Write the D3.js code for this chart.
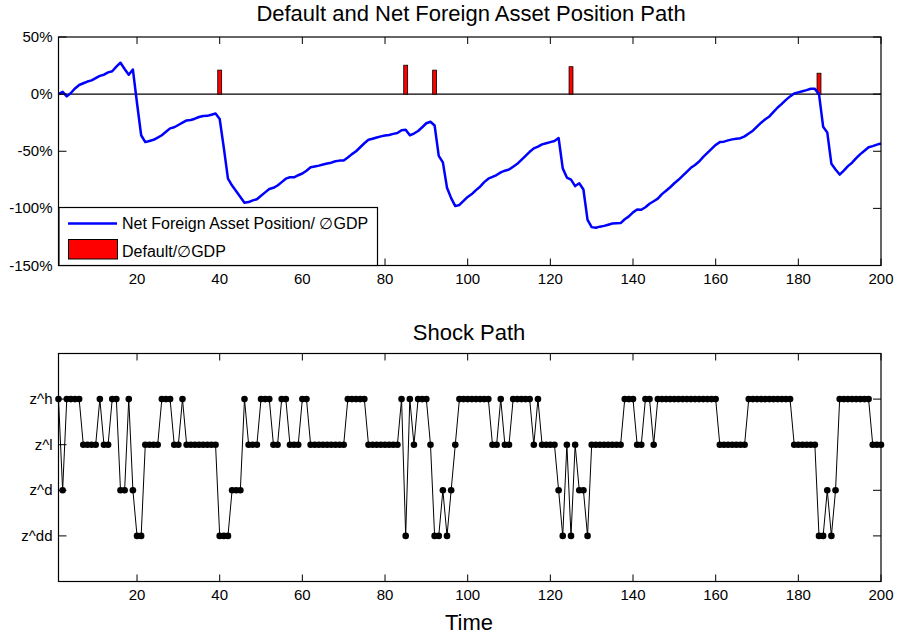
<!DOCTYPE html>
<html><head><meta charset="utf-8">
<script src="https://cdn.jsdelivr.net/npm/d3@7"></script>
<style>
html,body{margin:0;padding:0;background:#fff;}
svg{display:block;font-family:"Liberation Sans",Arial,sans-serif;}
</style></head>
<body><svg id="c" width="898" height="639"></svg>
<script>
// ---------- DATA ----------
const xTicks = [20,40,60,80,100,120,140,160,180,200];
const nfaTicks = [50,0,-50,-100,-150];
const shockTickLabels = ["z^dd","z^d","z^l","z^h"]; // levels 1..4

// Net foreign asset position (% of GDP), t = 1..200
const nfa = [
  0, 2, -2, 1, 5, 8, 9.5, 11, 12, 14,
  16, 17, 19, 20, 24, 27.5, 22, 17, 21.5, -8,
  -36, -42, -41, -40, -38, -36, -33, -30, -29, -27,
  -25, -23, -22.7, -21.5, -20, -19.2, -19, -18, -17, -21.8,
  -47, -74, -80, -85, -90, -95, -94.5, -93, -92, -89,
  -86, -83, -82, -80, -77, -74, -72.8, -72.8, -71, -69.5,
  -67, -64, -63.3, -62.6, -61.6, -60.8, -60, -58.8, -58.2, -58.2,
  -55.5, -52.5, -50, -46.5, -43, -40, -39, -38, -37, -36.2,
  -35.7, -34.8, -34, -31.6, -31.2, -36, -34.5, -32.3, -29, -25.5,
  -24.2, -27.5, -54, -59.7, -82, -91, -98, -97, -93.5, -90,
  -87.5, -84, -81, -77, -74, -72.5, -70.8, -68.5, -67, -66,
  -63.5, -61, -57.5, -54, -50.5, -47.5, -46, -44, -43, -42,
  -41, -38.4, -65, -73, -74.8, -80.5, -78, -83.5, -110, -116.4,
  -117, -116, -115.3, -114.3, -113.3, -113, -112.9, -109.5, -107, -103.5,
  -101, -101.2, -99, -96, -93.8, -91.5, -87.5, -84.5, -81.5, -78,
  -75, -71.5, -68, -64.5, -62, -59, -55, -51.5, -48, -44.5,
  -42, -41.6, -40.5, -39.6, -39, -38.6, -37, -34.5, -32, -28.5,
  -25, -22, -19.5, -15.5, -11.7, -8.5, -5, -2, 0.5, 1.5,
  2.5, 3.5, 4.7, 4.6, 0, -28.5, -33.5, -61, -66, -70.4,
  -67, -63, -60, -56, -52.5, -49.5, -46.5, -45.5, -44.2, -43.2
];

// Default episodes (time, default / GDP in %)
const defaultTimes = [40, 85, 92, 125, 185];
const defaultSizes = [21, 25.3, 21, 24, 18.3];

// Shock state, t = 1..200 (1=z^dd, 2=z^d, 3=z^l, 4=z^h)
const shock = [
  4,2,4,4,4,4,3,3,3,3,
  4,3,3,4,4,2,2,4,2,1,
  1,3,3,3,3,4,4,4,3,3,
  4,3,3,3,3,3,3,3,3,1,
  1,1,2,2,2,4,3,3,3,4,
  4,4,3,3,4,4,3,3,3,4,
  4,3,3,3,3,3,3,3,3,3,
  4,4,4,4,4,3,3,3,3,3,
  3,3,3,4,1,4,3,4,4,4,
  3,1,1,2,1,2,3,4,4,4,
  4,4,4,4,4,3,3,4,3,3,
  4,4,4,4,4,3,4,3,3,3,
  3,2,1,3,1,3,2,2,1,3,
  3,3,3,3,3,3,3,4,4,4,
  3,3,4,4,3,4,4,4,4,4,
  4,4,4,4,4,4,4,4,4,4,
  3,3,3,3,3,3,3,4,4,4,
  4,4,4,4,4,4,4,4,3,3,
  3,3,3,3,1,1,2,1,2,4,
  4,4,4,4,4,4,4,3,3,3
];

// ---------- DRAW ----------
const svg = d3.select("#c");
const L = 58.5, R = 881;
const x = d3.scaleLinear().domain([1, 200]).range([L, R]);

function frame(g, top, bottom, y, yTickVals, yFmt) {
  const fsz = 15;
  const ax = g.append("g");
  xTicks.forEach(t => {
    const px = x(t);
    ax.append("line").attr("x1", px).attr("x2", px).attr("y1", bottom).attr("y2", bottom - 7).attr("stroke", "#000");
    ax.append("line").attr("x1", px).attr("x2", px).attr("y1", top).attr("y2", top + 7).attr("stroke", "#000");
    ax.append("text").attr("x", px).attr("y", bottom + 18).attr("text-anchor", "middle")
      .attr("font-size", fsz).text(t);
  });
  yTickVals.forEach(v => {
    const py = y(v);
    ax.append("line").attr("x1", L).attr("x2", L + 8).attr("y1", py).attr("y2", py).attr("stroke", "#000");
    ax.append("line").attr("x1", R).attr("x2", R - 8).attr("y1", py).attr("y2", py).attr("stroke", "#000");
    ax.append("text").attr("x", L - 6).attr("y", py + 5).attr("text-anchor", "end")
      .attr("font-size", fsz).text(yFmt(v));
  });
  g.append("rect").attr("x", L).attr("y", top).attr("width", R - L).attr("height", bottom - top)
    .attr("fill", "none").attr("stroke", "#000").attr("stroke-width", 1.2);
}

// ----- Top panel -----
const top1 = 37, bot1 = 265.5;
const y1 = d3.scaleLinear().domain([-150, 50]).range([bot1, top1]);
const g1 = svg.append("g");
svg.append("text").attr("x", 471).attr("y", 21).attr("text-anchor", "middle")
  .attr("font-size", 22).text("Default and Net Foreign Asset Position Path");

g1.append("line").attr("x1", L).attr("x2", R).attr("y1", y1(0)).attr("y2", y1(0))
  .attr("stroke", "#000").attr("stroke-width", 1.3);

const bw = 0.95;
g1.selectAll("rect.def").data(defaultTimes).join("rect").attr("class", "def")
  .attr("x", (d) => x(d - bw / 2))
  .attr("width", (d) => x(d + bw / 2) - x(d - bw / 2))
  .attr("y", (d, i) => y1(defaultSizes[i]))
  .attr("height", (d, i) => y1(0) - y1(defaultSizes[i]))
  .attr("fill", "#ff0000").attr("stroke", "#000").attr("stroke-width", 0.8);

const line1 = d3.line().x((d, i) => x(i + 1)).y(d => y1(d));
g1.append("path").datum(nfa).attr("d", line1).attr("fill", "none")
  .attr("stroke", "#0000ff").attr("stroke-width", 2.5).attr("stroke-linejoin", "round");

frame(g1, top1, bot1, y1, nfaTicks, v => v + "%");

const lg = g1.append("g");
lg.append("rect").attr("x", 59).attr("y", 207.5).attr("width", 318.5).attr("height", 58)
  .attr("fill", "#fff").attr("stroke", "#000").attr("stroke-width", 1.2);
lg.append("line").attr("x1", 68).attr("x2", 117).attr("y1", 223.5).attr("y2", 223.5)
  .attr("stroke", "#0000ff").attr("stroke-width", 2.5);
lg.append("text").attr("x", 122).attr("y", 229).attr("font-size", 16)
  .text("Net Foreign Asset Position/ \u2205GDP");
lg.append("rect").attr("x", 68.5).attr("y", 239.5).attr("width", 49).attr("height", 19.5)
  .attr("fill", "#ff0000").attr("stroke", "#000").attr("stroke-width", 1);
lg.append("text").attr("x", 122).attr("y", 257).attr("font-size", 16)
  .text("Default/\u2205GDP");

// ----- Bottom panel -----
const top2 = 353.5, bot2 = 581.5;
const y2 = d3.scaleLinear().domain([0, 5]).range([bot2, top2]);
const g2 = svg.append("g");
svg.append("text").attr("x", 469).attr("y", 340).attr("text-anchor", "middle")
  .attr("font-size", 22).text("Shock Path");

const line2 = d3.line().x((d, i) => x(i + 1)).y(d => y2(d));
g2.append("path").datum(shock).attr("d", line2).attr("fill", "none")
  .attr("stroke", "#000").attr("stroke-width", 1);
g2.selectAll("circle").data(shock).join("circle")
  .attr("cx", (d, i) => x(i + 1)).attr("cy", d => y2(d)).attr("r", 3.3).attr("fill", "#000");

frame(g2, top2, bot2, y2, [1, 2, 3, 4], v => shockTickLabels[v - 1]);

svg.append("text").attr("x", 469).attr("y", 630).attr("text-anchor", "middle")
  .attr("font-size", 22).text("Time");
</script>
</body></html>
